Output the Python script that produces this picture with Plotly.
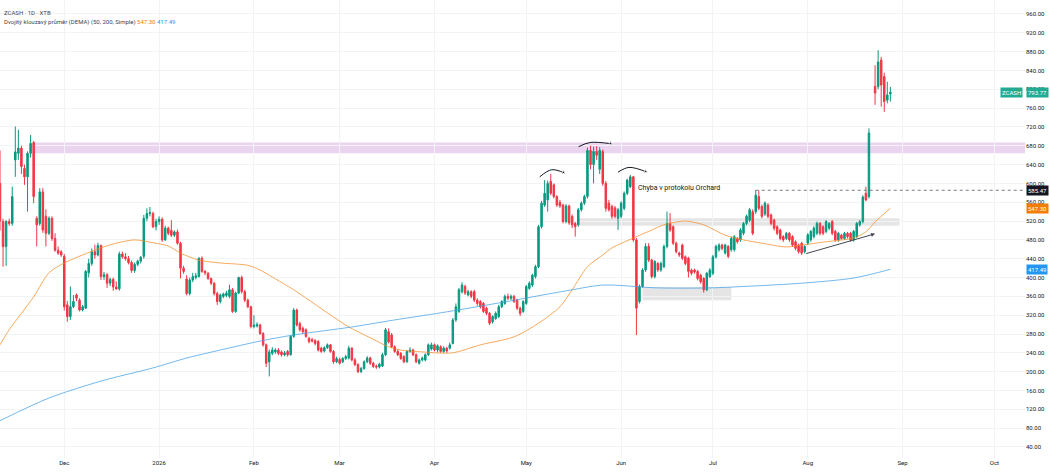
import pandas as pd
import plotly.graph_objects as go

# ZCASH daily candles, first candle on START
START = "2025-11-10"

opens = [
    600, 519, 466, 519, 515, 650, 664, 675, 632, 614,
    664, 687, 526, 515, 582, 530, 494, 526, 483, 458,
    455, 445, 342, 317, 338, 363, 352, 331, 335, 410,
    430, 455, 448, 468, 402, 406, 388, 396, 380, 376,
    450, 444, 440, 432, 415, 428, 435, 445, 526, 536,
    536, 508, 519, 524, 480, 505, 500, 490, 497, 473,
    420, 397, 366, 395, 400, 402, 441, 413, 409, 398,
    388, 366, 349, 360, 362, 360, 374, 328, 367, 400,
    370, 352, 338, 296, 297, 299, 281, 257, 221, 239,
    242, 246, 242, 236, 243, 236, 275, 331, 302, 292,
    289, 271, 268, 266, 264, 250, 244, 251, 257, 243,
    221, 226, 221, 228, 229, 250, 225, 215, 200, 207,
    221, 229, 218, 212, 210, 212, 236, 285, 278, 253,
    243, 239, 232, 221, 243, 246, 236, 218, 225, 225,
    236, 248, 257, 246, 253, 243, 250, 250, 260, 310,
    328, 370, 381, 363, 370, 370, 352, 349, 345, 335,
    324, 306, 313, 317, 338, 345, 360, 356, 360, 352,
    335, 328, 345, 377, 384, 402, 423, 508, 554, 565,
    604, 597, 572, 560, 554, 519, 552, 530, 515, 512,
    544, 558, 572, 670, 640, 668, 630, 668, 600, 558,
    551, 548, 526, 530, 547, 579, 593, 614, 480, 349,
    381, 416, 466, 437, 402, 430, 416, 423, 466, 515,
    508, 473, 452, 469, 444, 441, 416, 416, 413, 405,
    398, 374, 402, 409, 444, 459, 469, 452, 466, 459,
    459, 483, 480, 494, 515, 522, 540, 540, 572, 551,
    535, 554, 533, 522, 508, 501, 487, 483, 494, 487,
    476, 469, 473, 455, 473, 480, 487, 494, 515, 508,
    498, 505, 519, 498, 480, 490, 483, 494, 494, 480,
    487, 512, 519, 579, 572, None, 806, 806, 862, 827,
    777, 790,
]
highs = [
    670, 525, 522, 525, 593, 721, 714, 680, 640, 668,
    703, 690, 530, 590, 590, 545, 530, 530, 494, 466,
    458, 450, 350, 381, 363, 366, 356, 342, 416, 440,
    462, 470, 474, 470, 412, 410, 400, 400, 392, 455,
    455, 452, 446, 436, 432, 438, 446, 533, 547, 550,
    540, 525, 530, 528, 510, 508, 522, 500, 502, 476,
    425, 405, 400, 410, 410, 443, 445, 416, 412, 400,
    390, 370, 366, 368, 372, 385, 378, 370, 402, 404,
    374, 355, 340, 320, 305, 302, 284, 260, 247, 252,
    250, 250, 245, 244, 246, 278, 335, 334, 306, 296,
    292, 274, 272, 269, 267, 253, 254, 260, 259, 246,
    232, 230, 231, 236, 255, 252, 229, 218, 210, 224,
    233, 232, 221, 215, 219, 240, 293, 292, 282, 256,
    247, 242, 235, 246, 252, 249, 239, 228, 232, 239,
    260, 262, 260, 258, 256, 254, 253, 262, 314, 345,
    378, 390, 385, 374, 373, 374, 356, 352, 348, 338,
    327, 320, 328, 342, 352, 364, 366, 364, 363, 355,
    338, 352, 384, 392, 408, 427, 512, 563, 607, 606,
    620, 600, 575, 565, 557, 556, 555, 534, 518, 548,
    562, 576, 676, 680, 678, 679, 677, 672, 605, 565,
    555, 552, 548, 562, 583, 610, 618, 616, 484, 385,
    420, 473, 473, 440, 437, 433, 434, 470, 540, 537,
    511, 476, 455, 472, 447, 444, 419, 419, 416, 408,
    401, 412, 420, 448, 470, 473, 472, 472, 469, 487,
    490, 486, 505, 518, 534, 548, 545, 586, 585, 555,
    562, 558, 536, 525, 511, 504, 490, 497, 497, 490,
    479, 472, 476, 469, 494, 501, 509, 519, 518, 511,
    522, 518, 522, 501, 497, 493, 497, 497, 497, 501,
    518, 522, 575, 593, 717, None, 851, 883, 869, 835,
    816, 805,
]
lows = [
    500, 423, 425, 510, 510, 614, 650, 620, 597, 540,
    655, 558, 466, 510, 495, 466, 490, 478, 455, 448,
    444, 330, 306, 310, 335, 350, 328, 328, 333, 400,
    425, 440, 445, 395, 395, 378, 382, 372, 374, 372,
    440, 436, 428, 410, 410, 424, 430, 440, 520, 530,
    505, 500, 512, 476, 478, 490, 486, 486, 470, 398,
    408, 362, 362, 390, 396, 400, 410, 405, 395, 384,
    362, 342, 345, 356, 358, 356, 325, 325, 365, 366,
    348, 335, 292, 292, 294, 278, 253, 210, 190, 235,
    238, 235, 232, 233, 232, 234, 272, 296, 285, 280,
    272, 260, 262, 256, 243, 240, 241, 248, 240, 217,
    218, 215, 218, 225, 226, 222, 212, 197, 197, 204,
    218, 214, 208, 206, 207, 210, 233, 260, 250, 240,
    233, 225, 218, 219, 240, 233, 218, 215, 222, 222,
    233, 245, 243, 241, 240, 240, 240, 247, 258, 306,
    325, 366, 363, 360, 356, 348, 340, 334, 325, 320,
    299, 302, 310, 314, 335, 342, 352, 352, 346, 331,
    318, 325, 342, 374, 380, 398, 420, 504, 550, 540,
    575, 568, 550, 548, 515, 515, 512, 505, 487, 508,
    540, 554, 568, 630, 600, 650, 620, 595, 540, 540,
    525, 526, 501, 526, 543, 575, 590, 476, 278, 345,
    378, 412, 433, 398, 398, 412, 412, 420, 462, 497,
    469, 451, 444, 437, 426, 400, 405, 408, 394, 387,
    368, 371, 399, 405, 440, 455, 458, 449, 441, 455,
    455, 472, 476, 490, 511, 518, 490, 535, 543, 526,
    531, 526, 511, 500, 490, 479, 476, 480, 476, 465,
    458, 451, 448, 451, 469, 476, 483, 490, 490, 490,
    494, 501, 490, 476, 476, 480, 480, 483, 476, 476,
    484, 508, 515, 562, 568, None, 767, 800, 763, 752,
    770, 774,
]
closes = [
    520, 466, 519, 515, 572, 667, 675, 636, 614, 664,
    685, 572, 512, 582, 501, 494, 526, 483, 458, 452,
    448, 338, 317, 338, 349, 356, 331, 338, 413, 430,
    455, 448, 468, 402, 406, 388, 396, 380, 376, 450,
    444, 440, 432, 415, 428, 435, 443, 526, 536, 538,
    508, 519, 524, 480, 505, 494, 490, 497, 473, 420,
    413, 366, 395, 402, 404, 441, 413, 410, 398, 388,
    366, 349, 363, 365, 367, 374, 328, 367, 400, 370,
    352, 338, 296, 299, 300, 281, 257, 218, 242, 246,
    246, 239, 236, 240, 236, 275, 331, 299, 289, 285,
    275, 264, 265, 260, 246, 243, 251, 257, 243, 221,
    228, 218, 228, 232, 250, 225, 215, 200, 207, 221,
    229, 218, 211, 210, 216, 236, 289, 263, 253, 243,
    236, 228, 221, 243, 246, 236, 221, 225, 229, 236,
    257, 257, 246, 255, 243, 250, 244, 257, 310, 338,
    374, 384, 367, 370, 360, 352, 345, 338, 328, 324,
    303, 317, 324, 338, 349, 360, 356, 360, 349, 335,
    324, 349, 381, 388, 405, 423, 508, 558, 579, 600,
    579, 572, 554, 552, 519, 552, 516, 512, 508, 544,
    558, 572, 670, 640, 668, 660, 670, 600, 547, 544,
    530, 530, 544, 558, 579, 607, 614, 480, 335, 381,
    416, 466, 437, 402, 434, 416, 430, 466, 515, 501,
    473, 455, 448, 441, 430, 413, 409, 412, 398, 391,
    374, 409, 416, 444, 466, 469, 462, 469, 445, 483,
    487, 476, 501, 515, 530, 544, 494, 575, 547, 530,
    558, 530, 515, 505, 494, 483, 480, 494, 480, 469,
    462, 455, 452, 466, 491, 498, 505, 515, 494, 494,
    519, 515, 494, 480, 494, 483, 494, 487, 480, 498,
    515, 519, 571, 565, 707, None, 792, 858, 809, 774,
    788, 793.77,
]

# moving averages (50 / 200), read at these day numbers
ma50_days = [0, 3, 11, 16, 21, 27, 33, 38, 44, 50, 55, 59, 65, 72, 81, 85, 89, 96,
             107, 114, 121, 127, 131, 138, 148, 157, 168, 176, 183, 187, 192, 197,
             200, 207, 213, 217, 224, 230, 237, 243, 249, 257, 262, 270, 279, 283,
             286, 291]
ma50_vals = [257, 289, 359, 410, 431, 448, 463, 473, 480, 474, 467, 452, 437, 431,
             426, 416, 401, 374, 325, 295, 272, 253, 246, 242, 240, 257, 274, 303,
             338, 374, 423, 448, 463, 484, 501, 512, 520, 512, 490, 480, 473, 465,
             469, 476, 484, 497, 518, 547.30]
ma200_days = [0, 16, 33, 50, 61, 72, 85, 96, 115, 129, 144, 163, 187, 197, 215, 232,
              246, 262, 279, 291]
ma200_vals = [96, 144, 180, 208, 229, 246, 265, 278, 295, 310, 325, 346, 374, 384,
              378, 378, 382, 388, 399, 417.49]

# marked zones and levels (day numbers from START)
supply_zone = (664, 687)          # pink band, from day 11
range_zone = (510, 526)           # grey band, days 189..294
june_base = (352, 380)            # grey box, days 210..239
breakout_level = 585.47
trend_days = [263, 286]
trend_prices = [450, 493]
arc_days = [[176.4, 180.3, 184.6], [189.1, 192.9, 200.0], [202.0, 205.6, 211.5]]
arc_prices = [[614, 629, 622], [678, 687, 684], [624, 634, 624]]

tick_dates = ["2025-12-01", "2026-01-01", "2026-02-01", "2026-03-01", "2026-04-01",
              "2026-05-01", "2026-06-01", "2026-07-01", "2026-08-01", "2026-09-01",
              "2026-10-01"]
tick_labels = ["Dec", "2026", "Feb", "Mar", "Apr", "May", "Jun", "Jul", "Aug", "Sep", "Oct"]

UP, DOWN = "#089981", "#f23645"
INK = "#131722"
t0 = pd.Timestamp(START)
dates = pd.date_range(START, periods=len(closes), freq="D")
x_end = t0 + pd.Timedelta(days=335)


def day(i):
    return (t0 + pd.Timedelta(days=i)).strftime("%Y-%m-%d %H:%M")


fig = go.Figure()
fig.add_trace(go.Candlestick(
    x=dates, open=opens, high=highs, low=lows, close=closes,
    increasing=dict(line=dict(color=UP, width=1), fillcolor=UP),
    decreasing=dict(line=dict(color=DOWN, width=1), fillcolor=DOWN),
    whiskerwidth=0, hoverinfo="skip", showlegend=False,
))
fig.add_trace(go.Scatter(
    x=[day(d) for d in ma50_days], y=ma50_vals, mode="lines",
    line=dict(color="rgba(245,140,40,0.75)", width=1, shape="spline", smoothing=0.8),
    hoverinfo="skip", showlegend=False,
))
fig.add_trace(go.Scatter(
    x=[day(d) for d in ma200_days], y=ma200_vals, mode="lines",
    line=dict(color="rgba(70,160,230,0.75)", width=1, shape="spline", smoothing=0.8),
    hoverinfo="skip", showlegend=False,
))

# curved arrows over the tops
for ds, ps in zip(arc_days, arc_prices):
    fig.add_trace(go.Scatter(
        x=[day(d) for d in ds], y=ps, mode="lines+markers",
        line=dict(color=INK, width=1, shape="spline", smoothing=1.0),
        marker=dict(symbol=["circle", "circle", "arrow-wide"], size=[0, 0, 6],
                    color=INK, angle=[0, 0, 115]),
        hoverinfo="skip", showlegend=False,
    ))

fig.add_shape(type="rect", x0=day(11), x1=x_end, y0=supply_zone[0], y1=supply_zone[1],
              fillcolor="rgba(206,147,216,0.4)", line_width=0, layer="below")
fig.add_shape(type="rect", x0=day(189), x1=day(294), y0=range_zone[0], y1=range_zone[1],
              fillcolor="rgba(170,170,170,0.3)", line_width=0, layer="below")
fig.add_shape(type="rect", x0=day(210), x1=day(239), y0=june_base[0], y1=june_base[1],
              fillcolor="rgba(170,170,170,0.3)", line_width=0, layer="below")
fig.add_shape(type="line", x0=day(247), x1=x_end, y0=breakout_level, y1=breakout_level,
              line=dict(color="#787b86", width=1, dash="dot"))

fig.add_annotation(
    x=day(trend_days[1]), y=trend_prices[1], ax=day(trend_days[0]), ay=trend_prices[0],
    xref="x", yref="y", axref="x", ayref="y", text="", showarrow=True,
    arrowhead=2, arrowsize=0.8, arrowwidth=1, arrowcolor="#434651",
)
fig.add_annotation(x=day(208), y=590, text="Chyba v protokolu Orchard", showarrow=False,
                   xanchor="left", font=dict(size=7, color=INK))

# header texts
fig.add_annotation(x=0.002, y=0.985, xref="paper", yref="paper", xanchor="left",
                   text="ZCASH · 1D · XTB", showarrow=False, font=dict(size=6, color="#434651"))
fig.add_annotation(
    x=0.002, y=0.965, xref="paper", yref="paper", xanchor="left", showarrow=False,
    text=("Dvojitý klouzavý průměr (DEMA) (50, 200, Simple) "
          f"<span style='color:#f57c00'>{ma50_vals[-1]:.2f}</span> "
          f"<span style='color:#2196f3'>{ma200_vals[-1]:.2f}</span>"),
    font=dict(size=6, color="#434651"),
)


def price_tag(y, text, bg, anchor="left", shift=1):
    fig.add_annotation(x=1, y=y, xref="paper", yref="y", xanchor=anchor, xshift=shift,
                       text=text, showarrow=False, bgcolor=bg, borderpad=1,
                       font=dict(size=6, color="white"))


price_tag(closes[-1], "ZCASH", "#22ab94", anchor="right", shift=-2)
price_tag(closes[-1], f"{closes[-1]:.2f}", "#22ab94")
price_tag(breakout_level, f"{breakout_level:.2f}", INK)
price_tag(ma50_vals[-1], f"{ma50_vals[-1]:.2f}", "#f57c00")
price_tag(ma200_vals[-1], f"{ma200_vals[-1]:.2f}", "#2196f3")

fig.update_layout(
    width=1050, height=474,
    margin=dict(l=0, r=25, t=0, b=16),
    paper_bgcolor="white", plot_bgcolor="white",
    showlegend=False,
    font=dict(family="Roboto", size=6, color=INK),
    xaxis=dict(
        type="date", range=[START, x_end], tickvals=tick_dates, ticktext=tick_labels,
        showgrid=True, gridcolor="#f2f3f5", zeroline=False, showline=False,
        rangeslider=dict(visible=False), tickfont=dict(size=6, color=INK),
    ),
    yaxis=dict(
        side="right", range=[16.6, 989.7], dtick=40, tick0=0, tickformat=".2f",
        showgrid=True, gridcolor="#f2f3f5", zeroline=False, showline=False,
        tickfont=dict(size=6, color=INK),
    ),
)

# the page's default body margin would push the chart 8px off the window
fig.write_html("out.html", config={"displayModeBar": False},
               post_script="document.body.style.margin = '0';")
